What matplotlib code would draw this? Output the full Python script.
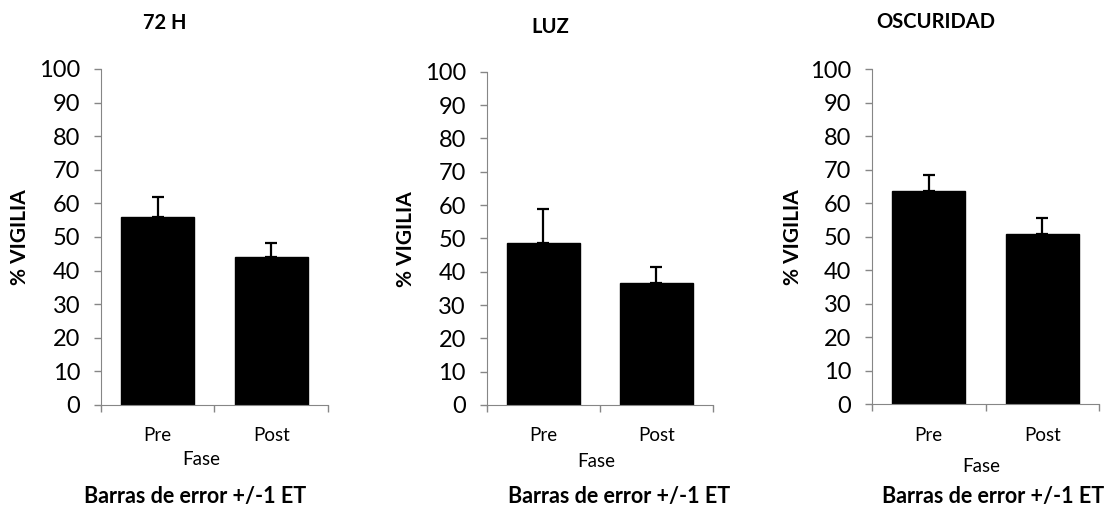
import matplotlib
matplotlib.use("Agg")
from matplotlib import pyplot as plt

# % vigilia por fase (Pre / Post) en tres condiciones
fases = ["Pre", "Post"]
titulos = ["72 H", "LUZ", "OSCURIDAD"]
medias = [[56.0, 44.0], [48.7, 36.7], [63.8, 50.8]]
errores = [[5.9, 4.2], [10.1, 4.8], [4.6, 4.7]]

plt.rcParams["font.family"] = ["Lato", "DejaVu Sans"]

fig = plt.figure(figsize=(11.07, 5.08), dpi=100)

# posicion de cada panel [left, bottom, width, height]
cajas = [[0.0912, 0.2028, 0.2051, 0.6614],
         [0.4397, 0.2028, 0.2044, 0.6560],
         [0.7877, 0.2041, 0.2051, 0.6595]]
titulo_xy = [(0.1486, 0.955), (0.497, 0.947), (0.8456, 0.956)]
ylabel_xy = [(0.018, 0.533), (0.367, 0.529), (0.716, 0.533)]
fase_xy = [(0.182, 0.096), (0.5385, 0.0906), (0.886, 0.081)]
nota_x = [0.176, 0.559, 0.897]

gris = "#868686"

for i in range(3):
    ax = fig.add_axes(cajas[i])
    pos = [0.5, 1.5]
    ax.bar(pos, medias[i], width=0.64, color="black", edgecolor="black")
    ax.errorbar(pos, medias[i], yerr=[[0, 0], errores[i]], fmt="none",
                ecolor="black", elinewidth=1.6, capsize=4.5, capthick=1.6)
    ax.set_xlim(0, 2)
    ax.set_ylim(0, 100)
    ax.set_yticks(range(0, 101, 10))
    ax.set_xticks([0, 1, 2])
    ax.set_xticklabels([])
    ax.set_xticks(pos, minor=True)
    ax.set_xticklabels(fases, minor=True)
    ax.tick_params(axis="x", which="minor", length=0, pad=16, labelsize=13.5)
    ax.tick_params(axis="x", which="major", length=5, color=gris, width=1)
    ax.tick_params(axis="y", length=5, color=gris, width=1, labelsize=17, pad=10)
    for lado in ["top", "right"]:
        ax.spines[lado].set_visible(False)
    ax.spines["left"].set_color(gris)
    ax.spines["bottom"].set_color(gris)

    fig.text(titulo_xy[i][0], titulo_xy[i][1], titulos[i], ha="center", va="center",
             fontsize=14.5, fontweight="bold")
    fig.text(ylabel_xy[i][0], ylabel_xy[i][1], "% VIGILIA", rotation=90,
             ha="center", va="center", fontsize=15, fontweight="bold")
    fig.text(fase_xy[i][0], fase_xy[i][1], "Fase", ha="center", va="center",
             fontsize=13.5)
    fig.text(nota_x[i], 0.022, "Barras de error +/-1 ET", ha="center", va="center",
             fontsize=15.5, fontweight="bold")

fig.savefig("out.png", dpi=100)
